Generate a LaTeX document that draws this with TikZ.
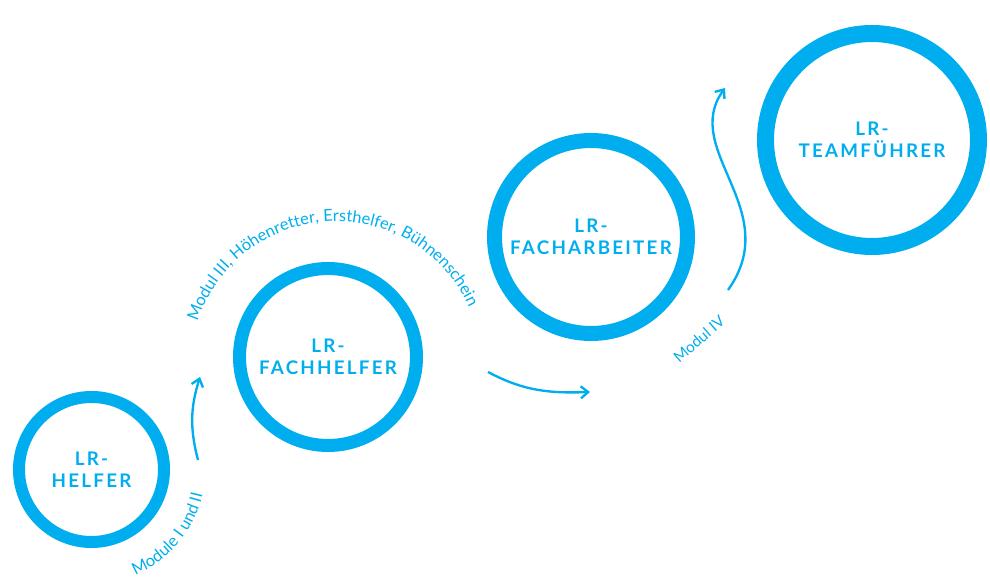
\documentclass[tikz,border=0pt]{standalone}
\usepackage{fontspec}
\setmainfont{Lato}
\newfontfamily\ringfont[LetterSpace=12]{Lato}
\usetikzlibrary{arrows.meta,decorations.text}
\definecolor{lrblue}{HTML}{00AEEF}

\begin{document}
\begin{tikzpicture}[
  ring/.style={draw=lrblue, circle, inner sep=0pt, align=center, text=lrblue,
    font=\ringfont\bfseries\fontsize{16}{19}\selectfont},
  lnk/.style={-{Straight Barb[length=2.2mm,width=3.6mm]}, draw=lrblue,
    line width=2pt},
  lbl/.style={text=lrblue, font=\fontsize{13}{15}\selectfont},
  arclbl/.style={decorate, decoration={text along path, text align=center,
    text={|\color{lrblue}\fontsize{14}{16}\selectfont|#1}}},
]
\useasboundingbox (0,0) rectangle (29.7,17.37);
\node[ring, minimum size=4.35cm, line width=0.36cm] (helfer) at (2.745,3.285) {LR-\\HELFER};
\node[ring, minimum size=5.31cm, line width=0.39cm] (fachhelfer) at (9.84,6.66) {LR-\\FACHHELFER};
\node[ring, minimum size=5.79cm, line width=0.45cm] (facharbeiter) at (17.73,10.26) {LR-\\FACHARBEITER};
\node[ring, minimum size=6.39cm, line width=0.51cm] (teamfuehrer) at (26.16,13.17) {LR-\\TEAMFÜHRER};

\coordinate (m12s) at (5.94,3.57);
\coordinate (m12e) at (6.00,6.06);
\coordinate (m3s) at (14.64,6.21);
\coordinate (m3e) at (17.70,5.61);
\coordinate (m4s) at (21.84,8.67);
\coordinate (m4e) at (21.75,14.73);
\draw[lnk] (m12s) to[bend left=16] (m12e);
\draw[lnk] (m3s) to[out=-28,in=182] (m3e);
\draw[lnk] (m4s) .. controls (23.55,11.07) and (20.40,12.87) .. (m4e);

\path[arclbl={Module I und II}] (helfer.center) ++(-100:3.42)
  arc[start angle=-100, end angle=20, radius=3.42];
\path[arclbl={Modul III, Höhenretter, Ersthelfer, Bühnenschein}]
  (fachhelfer.center) ++(0.24,-0.30) ++(203:4.37)
  arc[start angle=203, end angle=-17, radius=4.37];
\node[lbl, rotate=41] (modiv) at (20.97,7.20) {Modul IV};
\end{tikzpicture}
\end{document}
